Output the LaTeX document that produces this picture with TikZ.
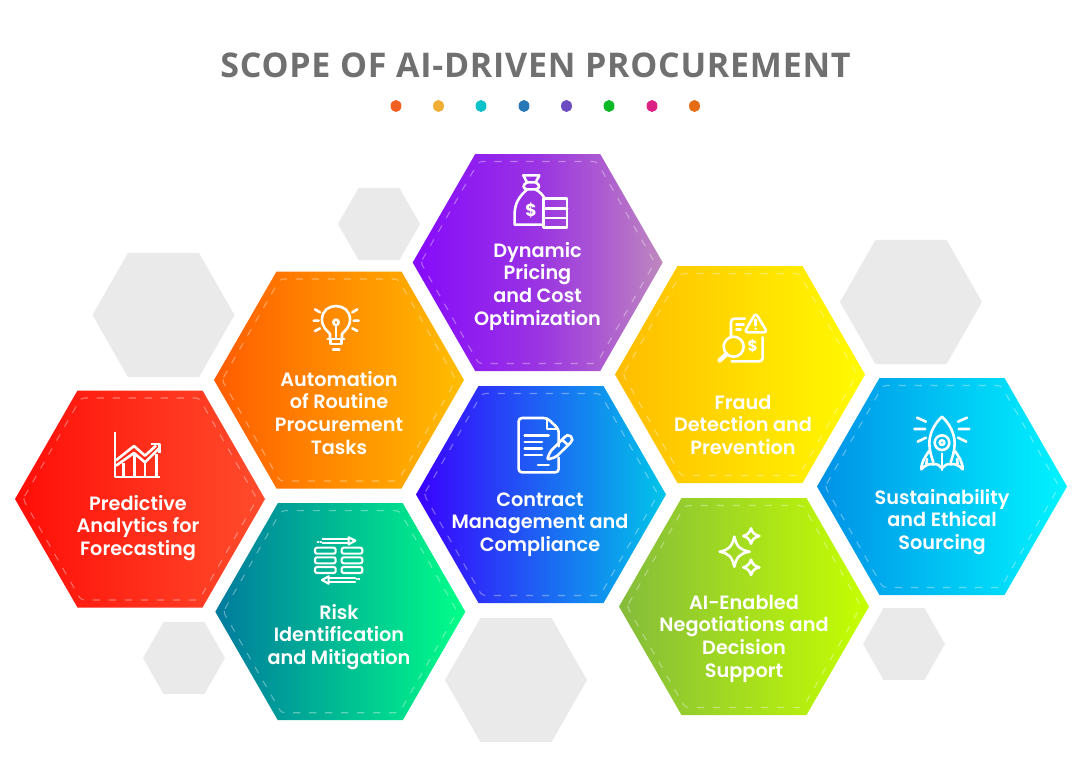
\documentclass[tikz,border=0pt]{standalone}
\usepackage{fontspec}
\newfontfamily\lblfont{Poppins SemiBold}
\newfontfamily\titlefont[LetterSpace=2.2]{Open Sans Bold}
\newfontfamily\iconfont{Poppins Bold}
\usetikzlibrary{shapes.geometric}
\definecolor{titlegray}{HTML}{707070}
\definecolor{hexgray}{HTML}{EAEAEA}
\definecolor{pa}{HTML}{860AFB}
\definecolor{pb}{HTML}{9A34E2}
\definecolor{pc}{HTML}{AB58D2}
\definecolor{pd}{HTML}{BE88BE}
\pgfdeclarehorizontalshading{purpleshade}{100bp}{
  color(0bp)=(pa); color(25bp)=(pa); color(50bp)=(pb); color(62bp)=(pc); color(75bp)=(pd); color(100bp)=(pd)}
\definecolor{c1}{HTML}{FF5C00}\definecolor{c2}{HTML}{FFBE00}
\definecolor{c3}{HTML}{FF0E08}\definecolor{c4}{HTML}{FF4C2C}
\definecolor{c5}{HTML}{007A9E}\definecolor{c6}{HTML}{00FF88}
\definecolor{c7}{HTML}{FFBC00}\definecolor{c8}{HTML}{FFFB00}
\definecolor{c9}{HTML}{0090E6}\definecolor{c10}{HTML}{00F4FF}
\definecolor{c11}{HTML}{3A00FF}\definecolor{c12}{HTML}{00C6E8}
\definecolor{c13}{HTML}{84BC3C}\definecolor{c14}{HTML}{C6FF00}
% #1 cx, #2 cy, #3 left colour, #4 right colour
\newcommand{\bighex}[4]{%
  \shade[left color=#3,right color=#4] (#1-125,#2) -- (#1-62.5,#2-108.5) -- (#1+62.5,#2-108.5) -- (#1+125,#2) -- (#1+62.5,#2+108.5) -- (#1-62.5,#2+108.5) -- cycle;
  \draw[stitch] (#1-117,#2) -- (#1-59,#2-101) -- (#1+59,#2-101) -- (#1+117,#2) -- (#1+59,#2+101) -- (#1-59,#2+101) -- cycle;}
\newcommand{\grayhex}[3]{\fill[hexgray] (#1-#3,#2) -- (#1-#3/2,#2-#3*0.875) -- (#1+#3/2,#2-#3*0.875) -- (#1+#3,#2) -- (#1+#3/2,#2+#3*0.875) -- (#1-#3/2,#2+#3*0.875) -- cycle;}
\tikzset{
  stitch/.style={draw=white,draw opacity=.36,line width=.8pt,dash pattern=on 5.5pt off 6.5pt,rounded corners=2.5pt},
  lbl/.style={text=white,align=center,anchor=base,inner sep=0pt,font=\lblfont\fontsize{14.45pt}{16.9pt}\selectfont},
  ico/.style={draw=white,line width=1.95pt,line cap=round,line join=round,fill=none},
  thinico/.style={ico,line width=1.6pt},
  dotmark/.style={ellipse,minimum width=8.2pt,minimum height=9pt,inner sep=0pt}
}
\begin{document}
\begin{tikzpicture}[x=0.75pt,y=-0.75pt]
\useasboundingbox (0,0) rectangle (1080,758);
\fill[white] (0,0) rectangle (1080,758);
% title
\node[text=titlegray,anchor=base,inner sep=0pt,font=\titlefont\fontsize{25.5pt}{30pt}\selectfont] (title) at (535.5,77) {SCOPE OF AI-DRIVEN PROCUREMENT};
\node[dotmark,fill={rgb,255:red,242;green,97;blue,34}] (d1) at (396,106) {};
\node[dotmark,fill={rgb,255:red,240;green,174;blue,53}] (d2) at (438.5,106) {};
\node[dotmark,fill={rgb,255:red,11;green,194;blue,200}] (d3) at (481,106) {};
\node[dotmark,fill={rgb,255:red,40;green,120;blue,184}] (d4) at (524,106) {};
\node[dotmark,fill={rgb,255:red,107;green,74;blue,194}] (d5) at (566.5,106) {};
\node[dotmark,fill={rgb,255:red,12;green,184;blue,37}] (d6) at (609,106) {};
\node[dotmark,fill={rgb,255:red,221;green,34;blue,133}] (d7) at (652,106) {};
\node[dotmark,fill={rgb,255:red,229;green,109;blue,20}] (d8) at (694.5,106) {};
% gray hexagons
\grayhex{163.5}{315}{71}
\grayhex{379}{224}{41}
\grayhex{911}{302}{71}
\grayhex{184}{658}{41}
\grayhex{516}{680}{71}
\grayhex{904}{644}{41}
% coloured hexagons
\shade[shading=purpleshade] (537.7-125,262.5) -- (537.7-62.5,154) -- (537.7+62.5,154) -- (537.7+125,262.5) -- (537.7+62.5,371) -- (537.7-62.5,371) -- cycle;
\draw[stitch] (537.7-117,262.5) -- (537.7-59,161.5) -- (537.7+59,161.5) -- (537.7+117,262.5) -- (537.7+59,363.5) -- (537.7-59,363.5) -- cycle;
\bighex{339}{380}{c1}{c2}
\bighex{140}{499}{c3}{c4}
\bighex{340.3}{611.7}{c5}{c6}
\bighex{740}{374.5}{c7}{c8}
\bighex{942}{486.5}{c9}{c10}
\bighex{541}{494.5}{c11}{c12}
\bighex{744}{606.5}{c13}{c14}
% labels
\node[lbl] (t1) at (537.5,325) {Dynamic\\Pricing\\and Cost\\Optimization};
\node[lbl] (t2) at (339,454) {Automation\\of Routine\\Procurement\\Tasks};
\node[lbl] (t3) at (138,555.3) {Predictive\\Analytics for\\Forecasting};
\node[lbl] (t4) at (339,664.3) {Risk\\Identification\\and Mitigation};
\node[lbl] (t5) at (743,454.3) {Fraud\\Detection and\\Prevention};
\node[lbl] (t6) at (942,549.3) {Sustainability\\and Ethical\\Sourcing};
\node[lbl] (t7) at (540,551.3) {Contract\\Management and\\Compliance};
\node[lbl] (t8) at (744,677) {AI-Enabled\\Negotiations and\\Decision\\Support};
% money bag
\begin{scope}[shift={(410,150)},scale=1/3]
\draw[ico] (340,76) -- (388,76) -- (377,97) -- (351,97) -- cycle;
\draw[ico] (351,97) .. controls (335,105) and (340,118) .. (352,118) -- (376,118) .. controls (388,118) and (393,105) .. (377,97);
\draw[ico] (352,118) .. controls (325,140) and (314,165) .. (314,190) -- (314,224) -- (397,224);
\draw[ico] (376,118) .. controls (390,125) and (400,137) .. (405,147);
\draw[ico] (400,146) rectangle (471,232);
\draw[ico] (400,175) -- (471,175) (400,204) -- (471,204);
\node[text=white,inner sep=0pt,font=\iconfont\fontsize{13pt}{13pt}\selectfont] (dollar1) at (363,180) {\$};
\end{scope}
% bulb
\begin{scope}[shift={(210,270)},scale=1/3]
\draw[ico] (360,205) -- (360,192) .. controls (350,180) and (336,172) .. (336,148) .. controls (336,122) and (356,108) .. (378,108) .. controls (400,108) and (420,122) .. (420,148) .. controls (420,172) and (406,180) .. (396,192) -- (396,205);
\draw[ico] (378,157) circle (8);
\draw[ico] (378,165) -- (378,205);
\draw[ico] (353,207) -- (403,207);
\draw[ico] (361,207) -- (361,222) -- (395,222) -- (395,207);
\draw[ico] (369,238) -- (388,238);
\draw[ico] (315,118) -- (330,127) (311,152) -- (326,152) (315,183) -- (330,175);
\draw[ico] (442,118) -- (427,127) (446,152) -- (431,152) (442,183) -- (427,175);
\end{scope}
% chart
\begin{scope}[shift={(10,385)},scale=1/3]
\draw[ico,line cap=butt] (315,140) -- (315,276) -- (450,276);
\draw[ico,line cap=butt] (341,235) -- (341,276) (373,208) -- (373,276) (405,232) -- (405,276) (440,208) -- (440,276);
\draw[ico,line cap=butt] (318,226) -- (372,183) -- (405,212) -- (438,182);
\draw[ico,line cap=butt] (318,242) -- (372,204) -- (405,232) -- (447,190);
\draw[ico,line cap=butt] (422,177) -- (448,177) -- (448,205);
\end{scope}
% risk
\begin{scope}[shift={(210,500)},scale=1/3]
\draw[thinico] (338,118) -- (418,118) (338,128) -- (418,128);
\draw[thinico] (416,112) -- (436,122) -- (416,133) -- cycle;
\draw[thinico] (323,127) -- (325,127) (331,127) -- (333,127);
\foreach \yy in {143,172,201}{
  \draw[thinico,rounded corners=1.5pt] (315,\yy) rectangle (377,\yy+18);
  \draw[thinico,rounded corners=1.5pt] (395,\yy) rectangle (457,\yy+18);
}
\draw[thinico] (356,234) -- (435,234) (356,245) -- (435,245);
\draw[thinico] (356,229) -- (336,240) -- (356,251) -- cycle;
\draw[thinico] (439,236) -- (441,236) (446,236) -- (448,236);
\end{scope}
% fraud
\begin{scope}[shift={(610,262)},scale=1/3]
\draw[ico,rounded corners=2.5pt] (405,170) -- (363,170) -- (363,226);
\draw[ico,rounded corners=2.5pt] (365,298) -- (458,298) -- (458,226);
\draw[ico] (379,187) -- (401,187) (379,203) -- (392,203);
\draw[ico,rounded corners=2.5pt] (437,153) -- (472,211) -- (403,211) -- cycle;
\draw[ico] (437,173) -- (437,190);
\fill[white] (437,200) circle (4);
\draw[ico] (371,254) circle (30);
\draw[ico,line width=3.4pt] (349,277) -- (329,295);
\node[text=white,inner sep=0pt,font=\iconfont\fontsize{11.5pt}{12pt}\selectfont] (dollar2) at (428,252) {\$};
\end{scope}
% rocket
\begin{scope}[shift={(812,375)},scale=1/3]
\draw[ico] (390,125) .. controls (368,145) and (352,175) .. (352,205) .. controls (352,225) and (358,245) .. (364,262);
\draw[ico] (390,125) .. controls (412,145) and (428,175) .. (428,205) .. controls (428,225) and (422,245) .. (416,262);
\draw[ico] (390,203) circle (22);
\draw[ico] (390,203) circle (7);
\draw[ico] (390,236) -- (390,285);
\draw[ico] (351,228) .. controls (340,245) and (328,260) .. (328,283) .. controls (340,270) and (352,265) .. (364,268) .. controls (375,265) and (380,270) .. (390,280) .. controls (400,270) and (405,265) .. (416,268) .. controls (428,265) and (440,270) .. (452,283) .. controls (452,260) and (440,245) .. (429,228);
\draw[ico] (343,268) -- (345,252) (437,268) -- (435,252);
\draw[ico] (315,128) -- (342,140) (307,162) -- (340,162) (317,200) -- (342,188);
\draw[ico] (465,128) -- (438,140) (472,162) -- (440,162) (463,200) -- (438,188);
\end{scope}
% contract
\begin{scope}[shift={(412,383)},scale=1/3]
\draw[ico,rounded corners=2.5pt] (440,190) -- (440,138) -- (405,105) -- (320,105) -- (320,268) -- (440,268) -- (440,224);
\draw[ico] (405,107) -- (405,138) -- (438,138);
\draw[ico] (338,157) -- (410,157) (338,177) -- (390,177) (338,197) -- (390,197) (338,216) -- (390,216) (378,246) -- (410,246);
\draw[ico,rounded corners=1.5pt] (405,230) -- (415,205) -- (462,158) -- (470,155) -- (482,165) -- (480,175) -- (432,222) -- cycle;
\draw[ico] (450,170) -- (468,186);
\end{scope}
% sparkles
\begin{scope}[shift={(615,495)},scale=1/3]
\draw[ico] (358,125) .. controls (365,155) and (375,165) .. (404,170) .. controls (375,175) and (365,185) .. (358,215) .. controls (351,185) and (341,175) .. (314,170) .. controls (341,165) and (351,155) .. (358,125) -- cycle;
\draw[ico] (408,100) .. controls (411,112) and (419,120) .. (433,123) .. controls (419,126) and (411,134) .. (408,146) .. controls (405,134) and (397,126) .. (385,123) .. controls (397,120) and (405,112) .. (408,100) -- cycle;
\draw[ico] (408,194) .. controls (411,206) and (419,214) .. (433,217) .. controls (419,220) and (411,228) .. (408,240) .. controls (405,228) and (397,220) .. (385,217) .. controls (397,214) and (405,206) .. (408,194) -- cycle;
\end{scope}
\end{tikzpicture}
\end{document}
